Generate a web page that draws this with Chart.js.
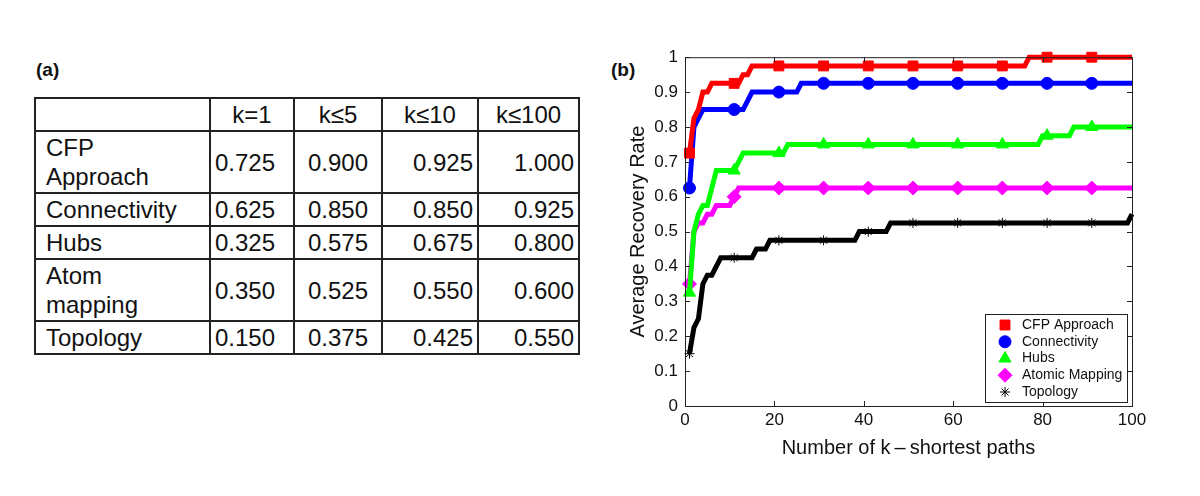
<!DOCTYPE html>
<html>
<head>
<meta charset="utf-8">
<script src="https://cdn.jsdelivr.net/npm/chart.js@4.4.0/dist/chart.umd.min.js"></script>
<style>
    body { margin: 0; width: 1200px; height: 496px; background: #fff; position: relative; overflow: hidden;
           font-family: "Liberation Sans", Arial, sans-serif; color: #111; }
    .panel { position: absolute; font-weight: bold; font-size: 19px; }
    #tbl { position: absolute; left: 34px; top: 97px; border-collapse: collapse; table-layout: fixed;
           width: 544px; font-size: 24px; }
    #tbl td { border: 2px solid #222; line-height: 29px; padding: 1px 4px; white-space: pre-line; overflow: hidden; }
    #chartBox { position: absolute; left: 600px; top: 40px; width: 560px; height: 440px; }
</style>
</head>
<body>
<div class="panel" style="left:36px; top:59px;">(a)</div>
<div class="panel" style="left:611px; top:59px;">(b)</div>
<table id="tbl"></table>
<div id="chartBox"><canvas id="recoveryChart"></canvas></div>
<script>
// table (a)
const tableHeads = ['k=1', 'k≤5', 'k≤10', 'k≤100'];
const tableNames = ['CFP\nApproach', 'Connectivity', 'Hubs', 'Atom\nmapping', 'Topology'];
const tableCfp = [0.725, 0.900, 0.925, 1.000];
const tableConn = [0.625, 0.850, 0.850, 0.925];
const tableHubs = [0.325, 0.575, 0.675, 0.800];
const tableAtom = [0.350, 0.525, 0.550, 0.600];
const tableTopo = [0.150, 0.375, 0.425, 0.550];

// chart (b): corner points of each step curve, k = number of shortest paths
const cfpK = [1, 2, 3, 4, 5, 6, 11, 12, 13, 14, 15, 21, 31, 41, 51, 61, 71, 76, 77, 81, 91, 100];
const cfpRate = [0.725, 0.825, 0.85, 0.9, 0.9, 0.925, 0.925, 0.925, 0.95, 0.95, 0.975, 0.975, 0.975, 0.975, 0.975, 0.975, 0.975, 0.975, 1, 1, 1, 1];
const connK = [1, 2, 3, 4, 5, 11, 12, 13, 14, 15, 21, 25, 26, 31, 41, 51, 61, 71, 81, 91, 100];
const connRate = [0.625, 0.8, 0.825, 0.85, 0.85, 0.85, 0.85, 0.85, 0.875, 0.9, 0.9, 0.9, 0.925, 0.925, 0.925, 0.925, 0.925, 0.925, 0.925, 0.925, 0.925];
const hubsK = [1, 2, 3, 4, 5, 6, 7, 11, 12, 13, 21, 22, 23, 31, 41, 51, 61, 71, 79, 80, 81, 86, 87, 91, 100];
const hubsRate = [0.325, 0.5, 0.55, 0.575, 0.575, 0.625, 0.675, 0.675, 0.7, 0.725, 0.725, 0.725, 0.75, 0.75, 0.75, 0.75, 0.75, 0.75, 0.75, 0.775, 0.775, 0.775, 0.8, 0.8, 0.8];
const atomK = [1, 2, 3, 4, 5, 6, 7, 10, 11, 12, 21, 31, 41, 51, 61, 71, 81, 91, 100];
const atomRate = [0.35, 0.5, 0.525, 0.525, 0.55, 0.55, 0.575, 0.575, 0.6, 0.625, 0.625, 0.625, 0.625, 0.625, 0.625, 0.625, 0.625, 0.625, 0.625];
const topoK = [1, 2, 3, 4, 5, 6, 7, 8, 11, 15, 16, 18, 19, 21, 31, 38, 39, 41, 45, 46, 51, 61, 71, 81, 91, 99, 100];
const topoRate = [0.15, 0.225, 0.25, 0.35, 0.375, 0.375, 0.4, 0.425, 0.425, 0.425, 0.45, 0.45, 0.475, 0.475, 0.475, 0.475, 0.5, 0.5, 0.5, 0.525, 0.525, 0.525, 0.525, 0.525, 0.525, 0.525, 0.55];

const xTicks = { min: 0, max: 100, step: 20 };
const yTicks = { min: 0, max: 1, step: 0.1 };

// build table
const tbl = document.getElementById('tbl');
const colWidths = [175, 84, 88, 96, 101];
const colAlign = ['left', 'left', 'center', 'right', 'right'];
let html = '<colgroup>' + colWidths.map(w => `<col style="width:${w}px">`).join('') + '</colgroup>';
html += '<tr><td></td>' + tableHeads.map(h => `<td style="text-align:center">${h}</td>`).join('') + '</tr>';
[tableCfp, tableConn, tableHubs, tableAtom, tableTopo].forEach((vals, r) => {
    html += `<tr><td style="padding-left:10px">${tableNames[r]}</td>` +
        vals.map((v, c) => `<td style="text-align:${colAlign[c + 1]}">${v.toFixed(3)}</td>`).join('') + '</tr>';
});
tbl.innerHTML = html;

const toPoints = (ks, rates) => ks.map((k, i) => ({ x: k, y: rates[i] }));
// markers every 10 paths, starting at k=1
const markerAt = (r) => (ctx) => (ctx.raw && (ctx.raw.x - 1) % 10 === 0 ? r : 0);

const makeSet = (label, ks, rates, color, style, r, borderColor, borderW) => ({
    label,
    data: toPoints(ks, rates),
    borderColor: color,
    borderWidth: 5,
    pointStyle: style,
    pointBackgroundColor: color,
    pointBorderColor: borderColor,
    pointBorderWidth: borderW,
    pointRadius: markerAt(r),
    pointHoverRadius: markerAt(r),
    legendRadius: r,
    clip: false
});

Chart.defaults.font.family = '"Liberation Sans", Arial, sans-serif';
Chart.defaults.color = '#111';

// MATLAB-like box with inward ticks + legend in the lower right
const axesDecor = {
    id: 'axesDecor',
    afterDatasetsDraw(chart) {
        const { ctx, chartArea: a, scales } = chart;
        ctx.save();
        ctx.strokeStyle = '#222';
        ctx.lineWidth = 1;
        ctx.strokeRect(a.left + 0.5, a.top + 0.5, a.right - a.left, a.bottom - a.top);
        ctx.beginPath();
        scales.x.ticks.forEach(t => {
            const px = Math.round(scales.x.getPixelForValue(t.value)) + 0.5;
            ctx.moveTo(px, a.bottom); ctx.lineTo(px, a.bottom - 5);
            ctx.moveTo(px, a.top); ctx.lineTo(px, a.top + 5);
        });
        scales.y.ticks.forEach(t => {
            const py = Math.round(scales.y.getPixelForValue(t.value)) + 0.5;
            ctx.moveTo(a.left, py); ctx.lineTo(a.left + 5, py);
            ctx.moveTo(a.right, py); ctx.lineTo(a.right - 5, py);
        });
        ctx.stroke();

        // legend
        const w = 142, h = 88;
        const x0 = a.right - w - 5, y0 = a.bottom - h - 4;
        ctx.fillStyle = '#fff';
        ctx.fillRect(x0, y0, w, h);
        ctx.strokeStyle = '#222';
        ctx.strokeRect(x0 + 0.5, y0 + 0.5, w, h);
        ctx.font = '14px "Liberation Sans", Arial, sans-serif';
        ctx.textBaseline = 'middle';
        chart.data.datasets.forEach((ds, i) => {
            const y = y0 + 11 + i * 16.75;
            ctx.fillStyle = ds.pointBackgroundColor;
            ctx.strokeStyle = ds.pointBorderColor;
            ctx.lineWidth = ds.pointBorderWidth;
            Chart.helpers.drawPoint(ctx, { pointStyle: ds.pointStyle, radius: ds.legendRadius, rotation: 0, borderWidth: ds.pointBorderWidth }, x0 + 20, y);
            ctx.fillStyle = '#111';
            ctx.fillText(ds.label, x0 + 37, y);
        });
        ctx.restore();
    }
};

new Chart(document.getElementById('recoveryChart'), {
    type: 'line',
    data: {
        datasets: [
            makeSet('CFP Approach', cfpK, cfpRate, '#ff0000', 'rect', 7, '#ff0000', 1),
            makeSet('Connectivity', connK, connRate, '#0000ff', 'circle', 6, '#0000ff', 1),
            makeSet('Hubs', hubsK, hubsRate, '#00ff00', 'triangle', 7, '#00ff00', 1),
            makeSet('Atomic Mapping', atomK, atomRate, '#ff00ff', 'rectRot', 7, '#ff00ff', 1),
            makeSet('Topology', topoK, topoRate, '#000000', 'star', 5, '#000000', 1)
        ]
    },
    options: {
        responsive: true,
        maintainAspectRatio: false,
        animation: false,
        layout: { padding: { top: 14, right: 28, left: 0, bottom: 0 } },
        plugins: {
            legend: { display: false },
            tooltip: { enabled: false }
        },
        scales: {
            x: {
                type: 'linear',
                min: xTicks.min, max: xTicks.max,
                ticks: { stepSize: xTicks.step, padding: 4, font: { size: 17 } },
                grid: { display: false, drawTicks: false },
                border: { display: false },
                title: { display: true, text: 'Number of k\u2009\u2013\u2009shortest paths', font: { size: 20 }, padding: { top: 0, bottom: 20 } },
                afterFit: (s) => { s.height = 74; }
            },
            y: {
                min: yTicks.min, max: yTicks.max,
                ticks: { stepSize: yTicks.step, padding: 7, font: { size: 17 },
                         callback: (v) => String(Number(v.toFixed(1))) },
                grid: { display: false, drawTicks: false },
                border: { display: false },
                title: { display: true, text: 'Average Recovery Rate', font: { size: 20 }, padding: { top: 26, bottom: 0 } },
                afterFit: (s) => { s.width = 85; }
            }
        }
    },
    plugins: [axesDecor]
});
</script>
</body>
</html>
